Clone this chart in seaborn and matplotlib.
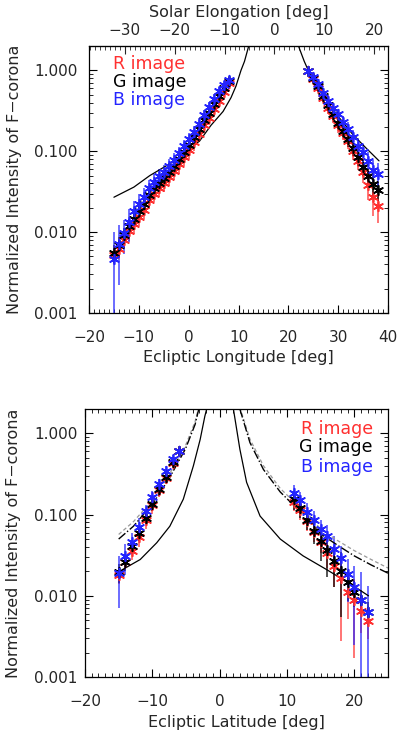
import numpy as np
import pandas as pd
import seaborn as sns
import matplotlib.pyplot as plt
from matplotlib.ticker import FixedLocator, MultipleLocator, LogLocator, NullFormatter, FuncFormatter

sns.set_style("ticks")
plt.rcParams['font.family'] = ['DejaVu Sans']

# ---------------- top panel: ecliptic longitude ----------------
lon_left = [-15, -14, -13, -12, -11, -10, -9, -8, -7, -6, -5, -4, -3, -2, -1, 0, 1, 2, 3, 4, 5, 6, 7, 8]
lon_r_left = [0.0052, 0.0062, 0.0080, 0.0102, 0.0126, 0.0155, 0.019, 0.025, 0.030, 0.035, 0.041, 0.048,
              0.057, 0.069, 0.084, 0.104, 0.13, 0.165, 0.21, 0.26, 0.33, 0.42, 0.54, 0.70]
lon_g_left = [0.0055, 0.0070, 0.0092, 0.0118, 0.0145, 0.018, 0.022, 0.029, 0.035, 0.041, 0.047, 0.055,
              0.066, 0.080, 0.097, 0.12, 0.15, 0.19, 0.24, 0.30, 0.38, 0.48, 0.60, 0.73]
lon_b_left = [0.0047, 0.0072, 0.0098, 0.0135, 0.018, 0.022, 0.027, 0.035, 0.042, 0.049, 0.056, 0.066,
              0.079, 0.095, 0.115, 0.14, 0.175, 0.22, 0.28, 0.35, 0.44, 0.55, 0.66, 0.76]
lon_r_left_err = [0.0012, 0.0014, 0.0018, 0.0024, 0.003, 0.0037, 0.0045, 0.0055, 0.0066, 0.0078, 0.0095, 0.011,
                  0.013, 0.016, 0.019, 0.023, 0.028, 0.034, 0.042, 0.05, 0.06, 0.065, 0.07, 0.06]
lon_g_left_err = [0.0014, 0.0016, 0.002, 0.0026, 0.0032, 0.004, 0.0048, 0.0058, 0.007, 0.0082, 0.01, 0.012,
                  0.014, 0.017, 0.02, 0.024, 0.029, 0.035, 0.043, 0.05, 0.06, 0.065, 0.07, 0.06]
lon_b_left_err = [0.0052, 0.005, 0.0045, 0.006, 0.0065, 0.0075, 0.0085, 0.009, 0.010, 0.011, 0.012, 0.014,
                  0.016, 0.019, 0.022, 0.026, 0.031, 0.038, 0.046, 0.055, 0.065, 0.07, 0.07, 0.06]

lon_right = [24, 25, 26, 27, 28, 29, 30, 31, 32, 33, 34, 35, 36, 37, 38]
lon_r_right = [0.97, 0.79, 0.61, 0.46, 0.34, 0.27, 0.21, 0.17, 0.134, 0.10, 0.076, 0.056, 0.038, 0.027, 0.021]
lon_g_right = [0.97, 0.80, 0.64, 0.48, 0.37, 0.29, 0.226, 0.18, 0.141, 0.11, 0.084, 0.064, 0.050, 0.039, 0.033]
lon_b_right = [0.97, 0.82, 0.68, 0.53, 0.42, 0.345, 0.286, 0.23, 0.187, 0.15, 0.117, 0.097, 0.076, 0.059, 0.053]
lon_r_right_err = [0.05, 0.06, 0.06, 0.055, 0.05, 0.045, 0.04, 0.032, 0.027, 0.022, 0.018, 0.015, 0.013, 0.011, 0.008]
lon_g_right_err = [0.05, 0.06, 0.06, 0.055, 0.05, 0.045, 0.04, 0.032, 0.027, 0.022, 0.018, 0.015, 0.012, 0.011, 0.009]
lon_b_right_err = [0.06, 0.07, 0.07, 0.065, 0.06, 0.055, 0.05, 0.045, 0.04, 0.034, 0.03, 0.026, 0.022, 0.02, 0.018]

model_lon_left = [-15, -11, -7.8, -4.5, -1.1, 2.2, 4.5, 6.9, 8.5, 9.5, 10.5, 11.2, 12.0]
model_lon_left_val = [0.027, 0.036, 0.050, 0.066, 0.092, 0.134, 0.21, 0.31, 0.46, 0.64, 1.0, 1.29, 1.95]
model_lon_right = [22.1, 23.2, 24, 25, 26, 27, 28.9, 30, 32.9, 35.5, 38.2]
model_lon_right_val = [1.95, 1.29, 1.0, 0.78, 0.62, 0.50, 0.33, 0.27, 0.162, 0.111, 0.076]

elong_ticks = [-30, -20, -10, 0, 10, 20]

# ---------------- bottom panel: ecliptic latitude ----------------
lat_left = [-15, -14, -13, -12, -11, -10, -9, -8, -7, -6]
lat_r_left = [0.018, 0.026, 0.036, 0.053, 0.086, 0.13, 0.20, 0.285, 0.43, 0.60]
lat_g_left = [0.0194, 0.0264, 0.041, 0.060, 0.092, 0.134, 0.205, 0.293, 0.44, 0.60]
lat_b_left = [0.019, 0.031, 0.046, 0.070, 0.111, 0.166, 0.236, 0.344, 0.48, 0.60]
lat_r_left_err = [0.004, 0.005, 0.008, 0.013, 0.02, 0.027, 0.035, 0.045, 0.05, 0.05]
lat_g_left_err = [0.005, 0.006, 0.008, 0.012, 0.016, 0.022, 0.03, 0.04, 0.05, 0.05]
lat_b_left_err = [0.012, 0.013, 0.013, 0.02, 0.022, 0.03, 0.04, 0.05, 0.06, 0.05]

lat_right = [11, 12, 13, 14, 15, 16, 17, 18, 19, 20, 21, 22]
lat_r_right = [0.145, 0.115, 0.083, 0.061, 0.046, 0.034, 0.023, 0.0168, 0.0112, 0.0089, 0.0065, 0.0049]
lat_g_right = [0.155, 0.12, 0.086, 0.063, 0.047, 0.037, 0.027, 0.020, 0.0146, 0.0112, 0.0089, 0.0064]
lat_b_right = [0.185, 0.151, 0.108, 0.086, 0.066, 0.054, 0.038, 0.0295, 0.0185, 0.013, 0.0089, 0.0064]
lat_r_right_err = [0.035, 0.03, 0.02, 0.015, 0.012, 0.012, 0.01, 0.014, 0.006, 0.0072, 0.003, 0.002]
lat_g_right_err = [0.04, 0.03, 0.022, 0.02, 0.02, 0.02, 0.014, 0.0145, 0.006, 0.004, 0.003, 0.002]
lat_b_right_err = [0.05, 0.04, 0.03, 0.025, 0.02, 0.02, 0.017, 0.012, 0.01, 0.0105, 0.011, 0.0069]

model_lat_left = [-14.8, -11.8, -9.35, -7.4, -5.4, -3.9, -2.9, -2.2, -1.93]
model_lat_left_val = [0.0202, 0.028, 0.045, 0.072, 0.155, 0.4, 0.84, 1.63, 2.0]
model_lat_right = [2.04, 3.0, 4.0, 6.0, 9.0, 12.4, 15.9, 19.9, 22.1]
model_lat_right_val = [2.0, 0.64, 0.25, 0.096, 0.05, 0.031, 0.021, 0.0132, 0.010]

dd_lat_left = [-15, -12.8, -9.85, -7.6, -5.1, -3.65, -3.1]
dd_lat_left_val = [0.05, 0.072, 0.14, 0.27, 0.64, 1.29, 2.0]
dd_lat_right = [3.0, 4.5, 6.5, 9, 11, 13, 15, 17.5, 20, 22.5, 25]
dd_lat_right_val = [2.0, 0.77, 0.36, 0.19, 0.13, 0.095, 0.058, 0.042, 0.031, 0.024, 0.019]
grey_lat_left_val = [0.057, 0.082, 0.155, 0.30, 0.70, 1.40, 2.1]
grey_lat_right_val = [2.1, 0.85, 0.40, 0.21, 0.145, 0.105, 0.066, 0.048, 0.036, 0.028, 0.022]

RED = '#ff3030'
BLUE = '#2424ff'
BLACK = 'black'
AST = (6, 2, 0)

fig = plt.figure(figsize=(4.0, 7.37), dpi=100)
ax1 = fig.add_axes([89 / 400, 1 - 313 / 737, 299 / 400, 267 / 737])
ax2 = fig.add_axes([85 / 400, 1 - 677 / 737, 303 / 400, 268 / 737])


def draw_group(ax, x, r, g, b, re, ge, be):
    for vals, errs, col in [(r, re, RED), (g, ge, BLACK), (b, be, BLUE)]:
        ax.errorbar(x, vals, yerr=errs, fmt='none', ecolor=col, elinewidth=1.1, capsize=0, alpha=0.85, zorder=2)
        sns.scatterplot(x=x, y=vals, ax=ax, marker=AST, s=48, color=col, edgecolor=col, linewidth=1.2, zorder=3)


def style_axis(ax, xlim, lpad):
    ax.set_yscale('log')
    ax.set_ylim(0.001, 2.0)
    ax.set_xlim(*xlim)
    ax.yaxis.set_major_locator(FixedLocator([0.001, 0.01, 0.1, 1.0]))
    ax.yaxis.set_major_formatter(FuncFormatter(lambda v, p: '%.3f' % v))
    ax.yaxis.set_minor_locator(LogLocator(base=10, subs=np.arange(2, 10)))
    ax.yaxis.set_minor_formatter(NullFormatter())
    ax.xaxis.set_major_locator(MultipleLocator(10))
    ax.xaxis.set_minor_locator(MultipleLocator(1))
    ax.tick_params(axis='both', which='major', direction='in', length=6, width=0.8, labelsize=11, color='black')
    ax.tick_params(axis='both', which='minor', direction='in', length=3, width=0.6, color='black')
    ax.tick_params(axis='x', which='major', pad=12)
    ax.tick_params(axis='y', which='major', pad=lpad)
    for s in ax.spines.values():
        s.set_linewidth(0.9)
        s.set_color('black')


# top panel
draw_group(ax1, lon_left, lon_r_left, lon_g_left, lon_b_left, lon_r_left_err, lon_g_left_err, lon_b_left_err)
draw_group(ax1, lon_right, lon_r_right, lon_g_right, lon_b_right, lon_r_right_err, lon_g_right_err, lon_b_right_err)
sns.lineplot(x=model_lon_left, y=model_lon_left_val, ax=ax1, color='black', lw=0.9, sort=False, estimator=None)
sns.lineplot(x=model_lon_right, y=model_lon_right_val, ax=ax1, color='black', lw=0.9, sort=False, estimator=None)
style_axis(ax1, (-20, 40), 8.5)
ax1.tick_params(axis='x', which='both', bottom=True, top=False)
ax1.tick_params(axis='y', which='both', left=True, right=True)
ax1.set_xlabel('Ecliptic Longitude [deg]', fontsize=11.5)
ax1.xaxis.set_label_coords(0.5, -0.14)
ax1.set_ylabel('Normalized Intensity of F\u2212corona', fontsize=11.5)
ax1.yaxis.set_label_coords(-0.225, 0.5)

sec = ax1.secondary_xaxis('top', functions=(lambda x: x - 17.2, lambda x: x + 17.2))
sec.xaxis.set_major_locator(FixedLocator(elong_ticks))
sec.xaxis.set_minor_locator(MultipleLocator(1))
sec.tick_params(which='major', direction='in', length=6, width=0.8, labelsize=11, pad=6)
sec.tick_params(which='minor', direction='in', length=3, width=0.6)
fig.text(238.5 / 400, 1 - 13 / 737, 'Solar Elongation [deg]', ha='center', va='center', fontsize=11.5)

for txt, col, yy in [('R image', RED, 0.933), ('G image', BLACK, 0.865), ('B image', BLUE, 0.797)]:
    ax1.text(0.08, yy, txt, color=col, fontsize=12.5, transform=ax1.transAxes, ha='left', va='center')

# bottom panel
draw_group(ax2, lat_left, lat_r_left, lat_g_left, lat_b_left, lat_r_left_err, lat_g_left_err, lat_b_left_err)
draw_group(ax2, lat_right, lat_r_right, lat_g_right, lat_b_right, lat_r_right_err, lat_g_right_err, lat_b_right_err)
sns.lineplot(x=model_lat_left, y=model_lat_left_val, ax=ax2, color='black', lw=0.9, sort=False, estimator=None)
sns.lineplot(x=model_lat_right, y=model_lat_right_val, ax=ax2, color='black', lw=0.9, sort=False, estimator=None)
sns.lineplot(x=dd_lat_left, y=grey_lat_left_val, ax=ax2, color='#999999', lw=0.9, ls=(0, (3, 2)), sort=False, estimator=None)
sns.lineplot(x=dd_lat_right, y=grey_lat_right_val, ax=ax2, color='#999999', lw=0.9, ls=(0, (3, 2)), sort=False, estimator=None)
sns.lineplot(x=dd_lat_left, y=dd_lat_left_val, ax=ax2, color='black', lw=1.0, ls='-.', sort=False, estimator=None)
sns.lineplot(x=dd_lat_right, y=dd_lat_right_val, ax=ax2, color='black', lw=1.0, ls='-.', sort=False, estimator=None)
style_axis(ax2, (-20, 25), 5.5)
ax2.tick_params(axis='x', which='both', bottom=True, top=True)
ax2.tick_params(axis='y', which='both', left=True, right=True)
ax2.set_xlabel('Ecliptic Latitude [deg]', fontsize=11.5)
ax2.xaxis.set_label_coords(0.5, -0.14)
ax2.set_ylabel('Normalized Intensity of F\u2212corona', fontsize=11.5)
ax2.yaxis.set_label_coords(-0.21, 0.5)

for txt, col, yy in [('R image', RED, 0.925), ('G image', BLACK, 0.857), ('B image', BLUE, 0.785)]:
    ax2.text(0.95, yy, txt, color=col, fontsize=12.5, transform=ax2.transAxes, ha='right', va='center')

fig.savefig('out.png', dpi=100)
